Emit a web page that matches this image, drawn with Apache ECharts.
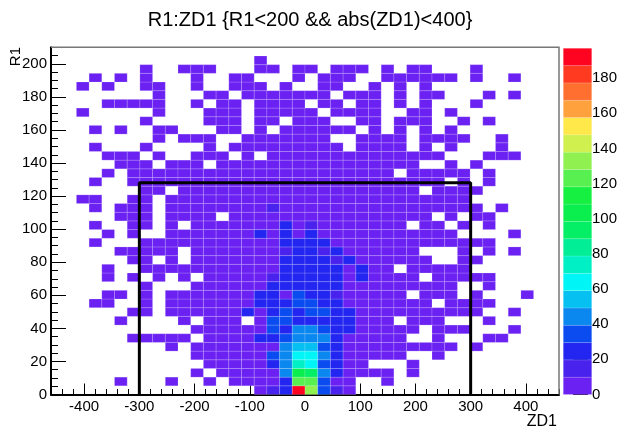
<!DOCTYPE html>
<html><head><meta charset="utf-8">
<script src="https://cdn.jsdelivr.net/npm/echarts@6/dist/echarts.min.js"></script>
<style>html,body{margin:0;padding:0;background:#fff}#c{width:620px;height:427px}</style>
</head><body><div id="c"></div><script>
// ---- axis ranges / binning (40 x 40 bins) ----
const xRange = [-460, 460];
const yRange = [0, 210];
const nBinsX = 40, nBinsY = 40;
const zMax = 197;
const xTickLabels = [-400, -300, -200, -100, 0, 100, 200, 300, 400];
const yTickLabels = [0, 20, 40, 60, 80, 100, 120, 140, 160, 180, 200];
const zTickLabels = [0, 20, 40, 60, 80, 100, 120, 140, 160, 180];
// cut box drawn on the histogram
const boxX = [-300, -300, 300, 300];
const boxY = [0, 128, 128, 0];
// 20-level rainbow palette (bottom -> top)
const palette = ['#6b21f2','#4a22ee','#2326f0','#0a4cf0','#0a88f0','#06c0f2','#00f6f6','#00f0c6',
  '#02ee96','#04ee66','#0aee4e','#16f040','#58f050','#90f050','#cff04e','#ffe84a','#ffa23e','#ff7030','#ff3a20','#ff0420'];
// bin contents, counts[row][col], row 0 = bottom (R1 0-5.25), col 0 = left (ZD1 -460..-437)
const counts = [
/*0*/ [0,0,0,0,0,0,0,0,0,0, 0,0,0,0,0,0,4,15,25,197, 135,35,15,4,0,0,0,0,0,0, 0,0,0,0,0,0,0,0,0,0],
/*1*/ [0,0,0,0,0,2,0,0,0,4, 0,0,4,0,4,4,4,4,25,125, 125,35,4,4,0,0,4,0,0,0, 0,0,0,0,0,0,0,0,0,0],
/*2*/ [0,0,0,0,0,0,0,0,0,0, 0,4,0,4,4,4,4,4,45,105, 95,45,25,4,4,4,4,0,4,0, 0,0,0,0,0,0,0,0,0,0],
/*3*/ [0,0,0,0,0,0,0,0,0,0, 0,0,4,4,4,4,4,25,45,75, 68,35,25,4,4,0,0,0,4,0, 0,0,0,0,0,0,0,0,0,0],
/*4*/ [0,0,0,0,0,0,0,0,0,0, 0,4,4,4,4,4,4,35,45,65, 65,45,25,4,4,4,4,4,0,0, 4,0,0,0,0,0,0,0,0,0],
/*5*/ [0,0,0,0,0,0,0,0,0,4, 0,4,4,4,4,4,4,4,45,55, 55,35,25,4,4,4,4,4,4,4, 4,4,0,2,0,0,0,0,0,0],
/*6*/ [0,0,0,0,0,0,2,4,4,4, 4,0,4,4,4,4,25,25,35,45, 45,45,25,4,4,4,4,4,0,0, 4,0,0,0,2,2,0,0,0,0],
/*7*/ [0,0,0,0,0,0,0,0,0,0, 0,4,4,4,4,4,4,35,25,45, 45,35,25,25,4,4,4,4,4,0, 4,4,4,0,0,0,2,0,0,0],
/*8*/ [0,0,0,0,0,2,0,0,0,0, 4,0,4,4,4,0,4,35,35,25, 25,25,25,25,4,4,4,0,4,4, 4,0,0,0,2,0,0,0,0,0],
/*9*/ [0,0,0,0,0,0,2,4,0,4, 4,4,4,4,4,25,4,25,35,25, 35,35,25,25,4,4,4,4,4,4, 4,4,4,2,0,0,2,0,0,0],
/*10*/[0,0,0,2,2,0,0,4,0,4, 4,4,4,4,4,4,25,25,25,35, 35,25,25,4,4,4,4,4,4,4, 0,4,4,2,2,0,0,0,0,0],
/*11*/[0,0,0,0,2,2,0,4,0,4, 4,4,4,4,4,4,25,25,4,35, 25,25,15,4,4,4,4,4,0,4, 4,4,0,2,0,0,0,2,0,0],
/*12*/[0,0,0,0,0,0,0,4,0,0, 0,4,4,4,4,4,4,25,25,25, 25,25,25,4,4,4,4,4,4,4, 4,4,0,0,2,0,0,0,0,0],
/*13*/[0,0,0,0,2,0,2,0,4,0, 4,0,4,4,4,4,4,15,25,25, 25,25,25,4,25,4,4,4,4,0, 4,4,4,2,2,0,0,0,0,0],
/*14*/[0,0,0,0,2,0,0,4,4,4, 4,4,4,4,4,4,4,4,25,25, 25,25,25,4,25,4,4,0,4,4, 4,4,4,0,0,0,0,0,0,0],
/*15*/[0,0,0,0,0,0,2,4,0,4, 0,4,4,4,4,4,4,4,25,25, 25,25,15,25,4,4,4,4,4,4, 0,0,4,2,0,0,0,0,0,0],
/*16*/[0,0,0,0,0,2,2,4,4,4, 0,4,4,4,4,4,4,4,15,25, 25,15,25,4,4,4,4,4,4,0, 0,0,4,0,2,0,2,0,0,0],
/*17*/[0,0,0,2,0,0,0,4,4,4, 4,4,4,4,4,4,4,4,25,25, 25,25,4,4,4,4,4,4,4,4, 4,4,4,2,2,0,0,0,0,0],
/*18*/[0,0,0,0,2,0,2,0,0,4, 4,4,4,4,4,4,25,4,25,4, 25,4,4,4,4,4,4,4,4,4, 4,4,0,0,0,0,2,0,0,0],
/*19*/[0,0,0,2,0,0,2,4,0,4, 0,4,4,4,4,4,4,4,25,4, 15,4,4,4,4,4,4,4,0,4, 4,0,4,0,2,0,0,0,0,0],
/*20*/[0,0,0,0,0,2,2,4,0,4, 4,4,4,0,4,4,4,4,4,4, 4,4,4,4,4,4,4,4,4,4, 0,4,0,2,2,0,0,0,0,0],
/*21*/[0,0,0,2,0,2,2,4,0,4, 4,4,4,4,4,4,4,15,4,4, 4,4,4,4,4,4,4,4,4,4, 4,4,4,2,0,2,0,0,0,0],
/*22*/[0,0,2,2,0,0,2,4,0,4, 4,4,4,4,4,4,4,4,4,4, 4,4,4,4,4,4,4,4,4,4, 4,4,4,0,0,0,0,0,0,0],
/*23*/[0,0,0,0,0,0,0,4,4,0, 4,4,4,4,4,4,4,4,4,4, 4,4,4,4,4,4,4,4,4,0, 4,4,4,2,0,0,0,0,0,0],
/*24*/[0,0,0,2,0,0,2,4,4,4, 4,4,4,4,4,4,4,4,4,4, 4,4,4,4,4,4,4,4,4,4, 4,0,4,0,2,0,0,0,0,0],
/*25*/[0,0,0,0,2,0,2,2,2,2, 2,2,2,2,2,2,2,2,2,2, 2,2,2,2,2,2,2,0,2,2, 2,2,2,0,2,0,0,0,0,0],
/*26*/[0,0,0,0,0,2,2,2,0,2, 2,2,0,2,2,2,2,2,2,2, 2,2,2,2,2,2,2,2,2,0, 0,2,0,2,0,0,0,0,0,0],
/*27*/[0,0,0,0,2,2,2,0,2,0, 0,2,2,2,0,2,0,2,2,2, 2,2,2,2,2,2,2,2,2,2, 2,0,0,0,2,2,2,0,0,0],
/*28*/[0,0,0,2,0,0,0,2,0,0, 0,0,2,0,2,2,2,2,2,2, 2,2,2,0,2,2,2,2,0,2, 0,2,0,0,0,2,0,0,0,0],
/*29*/[0,0,0,0,0,0,0,0,2,0, 2,2,2,0,0,2,2,2,2,2, 2,2,0,0,2,2,2,2,0,2, 2,2,2,0,0,2,0,0,0,0],
/*30*/[0,0,0,2,0,2,0,0,2,2, 0,0,0,2,2,0,2,0,2,2, 2,2,2,2,0,2,0,2,0,2, 0,2,0,0,0,0,0,0,0,0],
/*31*/[0,0,0,0,0,0,0,2,0,0, 0,0,2,2,2,0,2,2,0,2, 2,2,0,0,2,2,0,2,2,2, 0,0,2,0,2,0,0,0,0,0],
/*32*/[0,0,2,0,0,0,0,0,2,0, 0,0,2,2,2,0,2,2,2,2, 2,0,2,2,2,2,0,0,2,2, 0,2,0,0,0,0,0,0,0,0],
/*33*/[0,0,0,0,2,2,2,2,2,0, 0,2,0,2,2,0,2,2,2,2, 0,2,2,0,2,2,0,2,0,2, 0,0,0,2,0,0,0,0,0,0],
/*34*/[0,0,0,0,0,0,0,0,2,0, 0,0,2,2,0,2,2,2,2,2, 2,2,0,2,2,2,0,2,0,2, 2,0,0,0,2,0,2,0,0,0],
/*35*/[0,0,2,0,2,0,0,2,2,0, 0,2,0,0,2,2,2,0,2,0, 0,2,2,0,0,2,0,2,0,2, 0,0,0,0,0,0,0,0,0,0],
/*36*/[0,0,0,2,0,2,0,2,0,0, 0,2,0,0,2,2,0,0,0,2, 0,2,2,2,0,0,2,2,2,2, 2,2,0,2,0,0,2,0,0,0],
/*37*/[0,0,0,0,0,0,0,2,0,0, 2,2,2,0,0,0,2,2,0,2, 2,0,2,2,2,0,2,0,2,2, 0,0,0,2,0,0,0,0,0,0],
/*38*/[0,0,0,0,0,0,0,0,0,0, 0,0,0,0,0,0,2,0,0,0, 0,0,0,0,0,0,0,0,0,0, 0,0,0,0,0,0,0,0,0,0],
/*39*/[0,0,0,0,0,0,0,0,0,0, 0,0,0,0,0,0,0,0,0,0, 0,0,0,0,0,0,0,0,0,0, 0,0,0,0,0,0,0,0,0,0]
];

// ---- build series data from the arrays ----
const xBin = (xRange[1] - xRange[0]) / nBinsX;
const yBin = (yRange[1] - yRange[0]) / nBinsY;
const cells = [];
counts.forEach((row, r) => row.forEach((v, c) => {
  if (v > 0) cells.push([xRange[0] + c * xBin, yRange[0] + r * yBin, v]);
}));
const nLev = palette.length;
function colorFor(v) { let i = Math.floor(v / zMax * nLev); if (i >= nLev) i = nLev - 1; if (i < 0) i = 0; return palette[i]; }
const bands = palette.map((col, i) => [i]);

// ---- pixel layout ----
const F = {L: 51, T: 47.3, W: 508, H: 347.2};
const pxX = F.W / (xRange[1] - xRange[0]);
const pxY = F.H / (yRange[1] - yRange[0]);
const xLab0 = xTickLabels[0], xLab1 = xTickLabels[xTickLabels.length - 1];
const yLab1 = yTickLabels[yTickLabels.length - 1];
const G1 = {left: F.L + (xLab0 - xRange[0]) * pxX, width: (xLab1 - xLab0) * pxX,
            top: F.T + (yRange[1] - yLab1) * pxY, height: (yLab1 - yRange[0]) * pxY};
const CB = {L: 563.3, W: 28.4, T: 48.3, B: F.T + F.H};
const cbPx = (CB.B - CB.T) / zMax;
const zLab1 = zTickLabels[zTickLabels.length - 1];
const FONT = 'Liberation Sans';
const LBL = 15;
const hidden = {show: false};

const chart = echarts.init(document.getElementById('c'), null, {renderer: 'canvas'});
chart.setOption({
  animation: false,
  backgroundColor: '#fff',
  grid: [
    {left: F.L, top: F.T, width: F.W, height: F.H, show: false},
    {left: G1.left, top: G1.top, width: G1.width, height: G1.height, show: false},
    {left: CB.L, top: CB.T, width: CB.W, height: CB.B - CB.T, show: false},
    {left: CB.L, top: CB.B - zLab1 * cbPx, width: CB.W, height: zLab1 * cbPx, show: false}
  ],
  xAxis: [
    {type: 'value', gridIndex: 0, min: xRange[0], max: xRange[1], interval: 20, position: 'bottom',
     axisLine: {show: true, onZero: false, lineStyle: {color: '#000', width: 2}},
     axisTick: {show: true, inside: true, length: 5.5, lineStyle: {color: '#000', width: 1}},
     axisLabel: hidden, splitLine: hidden},
    {type: 'value', gridIndex: 1, min: xLab0, max: xLab1, interval: 100, position: 'bottom',
     axisLine: {show: false, onZero: false},
     axisTick: {show: true, inside: true, length: 11, lineStyle: {color: '#000', width: 1}},
     axisLabel: {show: true, margin: 5, color: '#000', fontFamily: FONT, fontSize: LBL},
     splitLine: hidden},
    {type: 'value', gridIndex: 2, min: 0, max: 1, show: false},
    {type: 'value', gridIndex: 3, min: 0, max: 1, show: false}
  ],
  yAxis: [
    {type: 'value', gridIndex: 0, min: yRange[0], max: yRange[1], interval: 5, position: 'left',
     axisLine: {show: true, onZero: false, lineStyle: {color: '#000', width: 2}},
     axisTick: {show: true, inside: true, length: 7, lineStyle: {color: '#000', width: 1}},
     axisLabel: hidden, splitLine: hidden},
    {type: 'value', gridIndex: 1, min: yRange[0], max: yLab1, interval: 20, offset: G1.left - F.L, position: 'left',
     axisLine: {show: false, onZero: false},
     axisTick: {show: true, inside: true, length: 15, lineStyle: {color: '#000', width: 1}},
     axisLabel: {show: true, margin: 4, color: '#000', fontFamily: FONT, fontSize: LBL},
     splitLine: hidden},
    {type: 'value', gridIndex: 2, min: 0, max: zMax, show: false},
    {type: 'value', gridIndex: 3, min: 0, max: zLab1, interval: 20, position: 'right',
     axisLine: {show: false, onZero: false},
     axisTick: {show: true, inside: true, length: 15, lineStyle: {color: '#000', width: 1}},
     axisLabel: {show: true, margin: 4, color: '#000', fontFamily: FONT, fontSize: LBL},
     splitLine: hidden}
  ],
  series: [
    {type: 'custom', xAxisIndex: 0, yAxisIndex: 0, data: cells, z: 2,
     renderItem: function (params, api) {
       const x0 = api.value(0), y0 = api.value(1);
       const p0 = api.coord([x0, y0]), p1 = api.coord([x0 + xBin, y0 + yBin]);
       return {type: 'rect', shape: {x: p0[0], y: p1[1], width: p1[0] - p0[0], height: p0[1] - p1[1]},
               style: {fill: colorFor(api.value(2)), stroke: 'rgba(255,255,255,0.28)', lineWidth: 0.6}};
     }},
    {type: 'line', xAxisIndex: 0, yAxisIndex: 0, z: 5, symbol: 'none',
     data: boxX.map((x, i) => [x, boxY[i]]),
     lineStyle: {color: '#000', width: 3}},
    {type: 'custom', xAxisIndex: 2, yAxisIndex: 2, data: bands, z: 2,
     renderItem: function (params, api) {
       const i = api.value(0);
       const p0 = api.coord([0, i * zMax / nLev]), p1 = api.coord([1, (i + 1) * zMax / nLev]);
       return {type: 'rect', shape: {x: p0[0], y: p1[1], width: p1[0] - p0[0], height: p0[1] - p1[1]},
               style: {fill: palette[i], stroke: 'rgba(255,255,255,0.25)', lineWidth: 0.5}};
     }}
  ],
  graphic: [
    {type: 'polyline', z: 10, shape: {points: [[F.L, F.T], [F.L + F.W, F.T], [F.L + F.W, F.T + F.H]]},
     style: {stroke: '#777', lineWidth: 1.5, fill: null}},
    {type: 'text', z: 10, left: 'center', top: 10,
     style: {text: 'R1:ZD1 {R1<200 && abs(ZD1)<400}', fontFamily: FONT, fontSize: 20, fill: '#000'}},
    {type: 'text', z: 10, x: 557, y: 422,
     style: {text: 'ZD1', fontFamily: FONT, fontSize: 16, fill: '#000', textAlign: 'right', textVerticalAlign: 'middle'}},
    {type: 'text', z: 10, x: 16, y: 47, rotation: Math.PI / 2,
     style: {text: 'R1', fontFamily: FONT, fontSize: 15, fill: '#000', textAlign: 'right', textVerticalAlign: 'middle'}}
  ]
});
</script></body></html>
